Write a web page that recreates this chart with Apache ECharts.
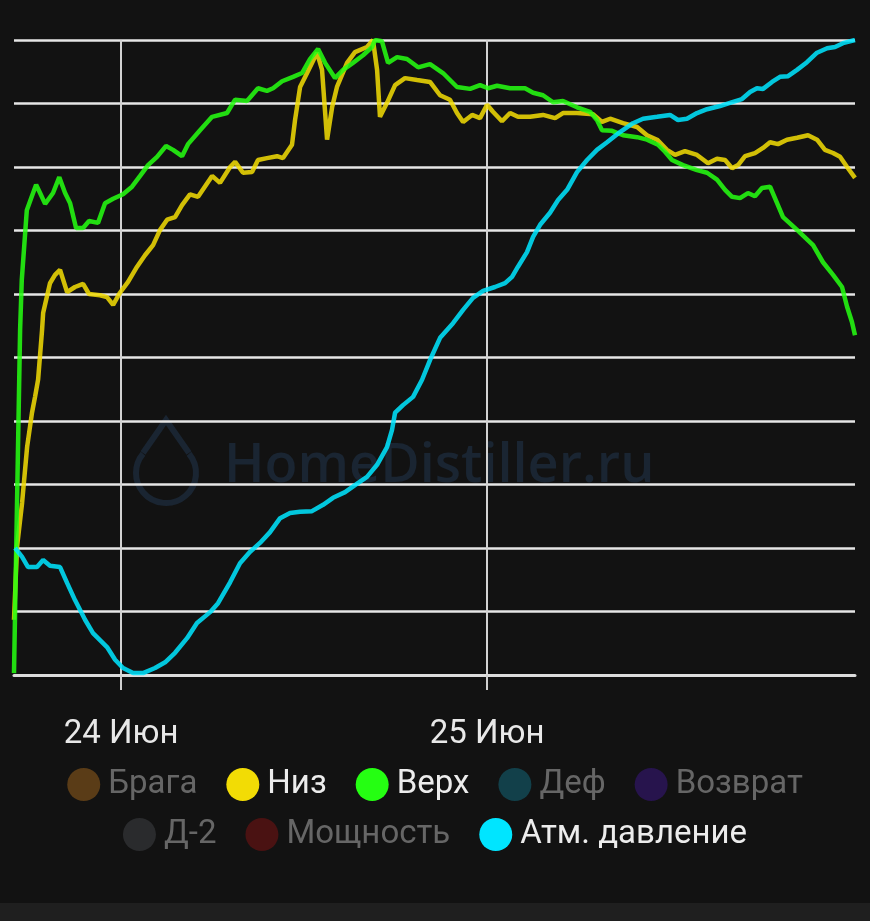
<!DOCTYPE html>
<html>
<head>
<meta charset="utf-8">
<style>
html, body { margin: 0; padding: 0; background: #121212; }
#chart { width: 870px; height: 921px; }
</style>
<script src="https://cdn.jsdelivr.net/npm/echarts@6/dist/echarts.min.js"></script>
</head>
<body>
<div id="chart"></div>
<script>
// часы от 24 июня 00:00, значения в % от диапазона датчика
var xMinHours = -7.02;
var xMaxHours = 48.13;
var dayHours = [0, 24];

var nizHours = [-7.02,-6.82,-6.49,-6.16,-5.84,-5.64,-5.44,-5.18,-5.11,-4.66,
    -4.33,-4.00,-3.54,-3.02,-2.49,-2.10,-1.38,-0.92,-0.52,-0.07,
    0.46,1.05,1.57,2.10,2.56,3.02,3.54,4.00,4.52,5.05,
    5.97,6.49,7.15,7.48,8.00,8.59,8.98,9.57,10.23,10.62,
    11.21,11.41,11.74,12.20,12.85,13.18,13.51,13.84,14.16,14.82,
    15.34,16.13,16.52,16.79,16.98,17.44,17.97,18.62,19.41,20.26,
    20.92,21.57,22.03,22.43,23.02,23.54,24.00,24.39,24.98,25.51,
    26.03,26.82,27.67,28.46,28.98,29.90,30.95,31.54,32.07,32.92,
    33.84,34.49,35.15,35.80,36.33,36.98,37.77,38.49,39.08,39.61,
    40.07,40.46,40.92,41.57,42.10,42.56,43.08,43.67,44.33,45.05,
    45.64,46.16,46.69,47.15,47.61,48.13];
var nizValues = [8.7,20.2,27.1,35.9,41.3,43.8,46.5,54.3,57.0,61.7,
    63.0,63.8,60.3,61.1,61.6,60.0,59.8,59.5,58.3,60.2,
    61.9,64.3,66.1,67.7,70.1,71.7,72.1,74.0,75.7,75.3,
    78.6,77.5,80.0,80.8,79.1,79.2,81.1,81.4,81.7,81.4,
    83.5,87.4,92.6,94.8,98.0,95.3,84.3,89.4,92.6,96.4,
    98.1,98.9,100,95.3,87.9,90.1,92.9,94.0,93.7,93.4,
    91.3,90.6,88.5,87.1,88.2,87.7,89.8,88.7,87.2,88.5,
    87.9,87.9,88.2,87.7,88.5,88.5,88.3,87.1,87.6,86.9,
    86.3,85.0,84.3,82.7,81.9,82.5,81.9,80.6,81.3,81.1,
    79.8,80.3,81.7,82.2,83.0,83.9,83.6,84.3,84.6,85.0,
    84.3,82.7,82.2,81.6,80.0,78.3];

var verhHours = [-7.02,-6.62,-6.51,-6.18,-5.86,-5.57,-5.31,-4.98,-4.46,-4.05,
    -3.67,-3.34,-2.95,-2.49,-2.10,-1.51,-1.05,-0.52,0.13,0.72,
    1.25,1.77,2.36,2.95,3.41,4.00,4.39,5.18,5.97,6.95,
    7.48,8.26,8.98,9.57,9.97,10.56,11.28,11.87,12.39,12.92,
    13.38,14.03,14.56,15.21,15.87,16.46,16.66,17.11,17.51,18.10,
    18.75,19.48,20.26,21.11,22.03,22.89,23.54,24.07,24.66,25.51,
    26.49,27.02,27.67,28.33,28.98,29.90,30.75,31.21,31.54,32.20,
    32.92,33.84,34.49,35.21,35.67,36.13,36.85,37.77,38.43,39.08,
    39.61,40.07,40.59,41.11,41.57,42.03,42.56,43.02,43.41,44.33,
    45.38,46.03,46.69,47.28,47.61,47.93,48.13];
var verhValues = [0.3,54.3,62.2,73.2,75.3,77.2,75.9,74.2,75.9,78.4,
    75.9,74.3,70.4,70.4,71.5,71.2,74.3,75.0,75.7,76.9,
    78.6,80.3,81.6,83.3,82.7,81.7,83.6,85.8,87.9,88.5,
    90.6,90.4,92.4,92.0,92.4,93.5,94.2,94.8,97.0,98.6,
    96.4,94.0,95.3,96.4,97.6,98.9,100,99.8,96.4,97.3,
    97.0,95.7,96.2,94.8,92.6,92.3,92.9,92.4,92.8,92.4,
    92.4,91.7,91.3,90.2,90.4,89.4,88.7,87.4,85.8,85.7,
    85.0,84.7,84.3,83.5,82.4,81.1,80.3,79.5,79.1,78.0,
    76.4,75.3,75.1,75.9,75.4,76.7,76.9,74.3,72.1,70.1,
    67.7,65.0,63.0,61.1,58.0,55.6,53.5];

var atmHours = [-6.95,-6.49,-6.10,-5.51,-5.11,-4.66,-4.00,-3.54,-3.02,-2.36,
    -1.84,-0.92,-0.39,0.13,0.79,1.44,2.23,2.89,3.54,4.33,
    4.98,5.84,6.36,7.15,7.80,8.46,9.11,9.77,10.43,11.08,
    11.74,12.52,13.25,13.90,14.69,15.34,16.13,16.79,17.44,17.77,
    17.97,18.49,19.15,19.74,20.26,20.92,21.77,22.43,23.08,23.74,
    24.52,25.18,25.64,26.03,26.62,27.02,27.48,28.13,28.66,29.25,
    29.90,30.56,31.21,31.87,32.72,33.57,34.23,35.15,36.00,36.52,
    37.11,37.77,38.43,39.28,39.93,40.72,41.25,41.70,42.10,42.69,
    43.21,43.74,44.33,44.98,45.64,46.30,46.82,47.34,48.13];
var atmValues = [20.0,18.6,17.0,17.0,18.1,17.2,17.0,14.5,11.8,8.7,
    6.6,4.4,2.4,1.1,0.3,0.3,1.1,2.0,3.5,5.8,
    8.2,9.9,11.3,14.6,17.6,19.4,20.8,22.5,24.7,25.5,
    25.7,25.8,26.8,27.9,28.8,29.9,31.2,33.1,35.9,38.6,
    41.3,42.5,43.8,46.5,49.6,53.1,55.4,57.5,59.4,60.5,
    61.1,61.7,62.7,64.3,66.6,69.0,70.9,72.8,74.8,76.4,
    79.2,81.1,82.7,83.9,85.5,86.9,87.6,87.9,88.2,87.4,
    87.6,88.5,89.1,89.6,90.1,90.7,91.8,92.4,92.3,93.4,
    94.2,94.3,95.3,96.5,98.0,98.7,98.9,99.5,100];

var legendRow1 = ['Брага', 'Низ', 'Верх', 'Деф', 'Возврат'];
var legendRow2 = ['Д-2', 'Мощность', 'Атм. давление'];
var activeNames = ['Низ', 'Верх', 'Атм. давление'];

var startDay = 24; // 24 Июн = 0 ч

function toPoints(hours, values) {
    var out = [];
    var n = Math.min(hours.length, values.length);
    for (var i = 0; i < n; i++) {
        out.push([hours[i], values[i]]);
    }
    return out;
}

function legendData(names) {
    return names.map(function (n) {
        var on = activeNames.indexOf(n) >= 0;
        return {name: n, textStyle: {color: on ? '#ececec' : '#666666'}};
    });
}

function lineSeries(name, color, pts) {
    return {
        name: name,
        type: 'line',
        color: color,
        data: pts,
        showSymbol: false,
        symbol: 'none',
        silent: true,
        lineStyle: {width: 4.5, opacity: 0.86},
        emphasis: {disabled: true}
    };
}

function emptySeries(name, color) {
    return {name: name, type: 'line', color: color, data: [], symbol: 'none'};
}

var chart = echarts.init(document.getElementById('chart'));

var legendCommon = {
    left: 'center',
    icon: 'circle',
    itemWidth: 33,
    itemHeight: 33,
    itemGap: 29,
    selectedMode: false,
    textStyle: {fontSize: 33, fontFamily: 'Roboto', padding: [0, 0, 0, 3]}
};

var wmColor = '#1a2532';

var option = {
    backgroundColor: '#121212',
    animation: false,
    grid: {left: 14, right: 15, top: 40, bottom: 246},
    xAxis: {
        type: 'value',
        min: xMinHours,
        max: xMaxHours,
        axisLine: {lineStyle: {color: '#dcdcdc', width: 3}},
        axisTick: {
            show: true,
            length: 15,
            customValues: dayHours,
            lineStyle: {color: '#cfcfcf', width: 2}
        },
        axisLabel: {
            customValues: dayHours,
            formatter: function (v) { return (startDay + Math.round(v / 24)) + ' Июн'; },
            color: '#e8e8e8',
            fontSize: 33,
            fontFamily: 'Roboto',
            margin: 43
        },
        splitLine: {show: true, lineStyle: {color: '#d2d2d2', width: 2}}
    },
    yAxis: {
        type: 'value',
        min: 0,
        max: 100,
        interval: 10,
        axisLabel: {show: false},
        axisLine: {show: false},
        axisTick: {show: false},
        splitLine: {lineStyle: {color: '#e6e6e6', width: 2.5}}
    },
    legend: [
        Object.assign({top: 763, data: legendData(legendRow1)}, legendCommon),
        Object.assign({top: 813, data: legendData(legendRow2)}, legendCommon)
    ],
    graphic: [
        {
            type: 'arc', z: -10, silent: true,
            shape: {cx: 166, cy: 473, r: 30, startAngle: -0.698, endAngle: 3.84, clockwise: true},
            style: {fill: 'none', stroke: wmColor, lineWidth: 6}
        },
        {
            type: 'polyline', z: -10, silent: true,
            shape: {points: [[143, 453], [166, 420], [189, 453]]},
            style: {fill: 'none', stroke: wmColor, lineWidth: 6}
        },
        {
            type: 'text', z: -10, silent: true, left: 224, top: 440,
            style: {text: 'HomeDistiller.ru', fill: wmColor, font: '600 54px "Open Sans"'}
        },
        {
            type: 'rect', silent: true, shape: {x: 0, y: 903, width: 870, height: 18},
            style: {fill: '#1f1f1f'}
        }
    ],
    series: [
        emptySeries('Брага', '#5a3c17'),
        lineSeries('Низ', '#f2dc05', toPoints(nizHours, nizValues)),
        lineSeries('Верх', '#25ff12', toPoints(verhHours, verhValues)),
        emptySeries('Деф', '#12404a'),
        emptySeries('Возврат', '#27144d'),
        emptySeries('Д-2', '#2a2b2d'),
        emptySeries('Мощность', '#4a1212'),
        lineSeries('Атм. давление', '#00e5ff', toPoints(atmHours, atmValues))
    ]
};

chart.setOption(option);
</script>
</body>
</html>
